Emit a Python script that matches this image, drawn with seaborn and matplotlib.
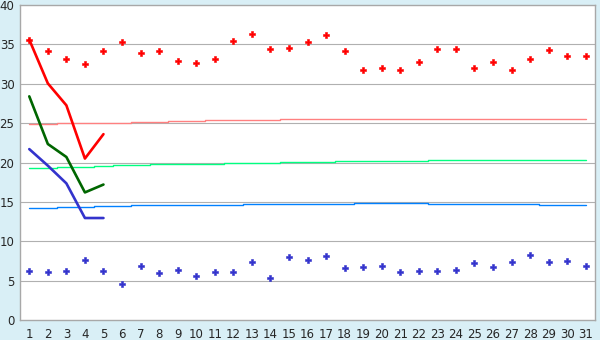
import matplotlib
matplotlib.use("Agg")
import pandas as pd
import matplotlib.pyplot as plt
import seaborn as sns

# daily readings, day 1..31
days = list(range(1, 32))
high_points = [35.55, 34.1, 33.1, 32.5, 34.2, 35.25, 33.9, 34.1, 32.85, 32.6,
               33.2, 35.4, 36.3, 34.4, 34.6, 35.25, 36.15, 34.1, 31.8, 31.95,
               31.7, 32.7, 34.4, 34.4, 31.95, 32.7, 31.7, 33.2, 34.25, 33.5, 33.5]
low_points = [6.17, 6.05, 6.17, 7.58, 6.17, 4.53, 6.81, 5.93, 6.31, 5.55,
              6.05, 6.05, 7.33, 5.29, 7.96, 7.58, 8.08, 6.56, 6.69, 6.81,
              6.05, 6.17, 6.17, 6.31, 7.2, 6.69, 7.33, 8.21, 7.33, 7.45, 6.81]

# long-run averages
high_avg = [24.85, 24.85, 24.97, 24.97, 24.97, 24.97, 25.1, 25.1, 25.23, 25.23,
            25.35, 25.35, 25.35, 25.35, 25.48, 25.48, 25.48, 25.48, 25.48, 25.48,
            25.48, 25.48, 25.48, 25.48, 25.48, 25.48, 25.48, 25.48, 25.48, 25.48, 25.48]
mid_avg = [19.26, 19.26, 19.43, 19.43, 19.56, 19.68, 19.68, 19.81, 19.81, 19.81,
           19.81, 19.94, 19.94, 19.94, 20.02, 20.02, 20.02, 20.15, 20.15, 20.15,
           20.15, 20.15, 20.27, 20.27, 20.27, 20.27, 20.27, 20.27, 20.27, 20.27, 20.27]
low_avg = [14.18, 14.18, 14.31, 14.31, 14.44, 14.44, 14.56, 14.56, 14.56, 14.56,
           14.56, 14.56, 14.69, 14.69, 14.69, 14.69, 14.69, 14.69, 14.8, 14.8,
           14.8, 14.8, 14.69, 14.69, 14.69, 14.69, 14.69, 14.69, 14.56, 14.56, 14.56]

# first five days of the current series
early_days = [1, 2, 3, 4, 5]
high_now = [35.6, 30.05, 27.26, 20.5, 23.6]
mid_now = [28.4, 22.35, 20.7, 16.2, 17.2]
low_now = [21.7, 19.6, 17.35, 12.95, 12.95]

df = pd.DataFrame({"day": days, "high": high_points, "low": low_points,
                   "high_avg": high_avg, "mid_avg": mid_avg, "low_avg": low_avg})
df_now = pd.DataFrame({"day": early_days, "high": high_now, "mid": mid_now, "low": low_now})

sns.set_style("white")
plt.rcParams["font.family"] = ["DejaVu Sans"]

fig = plt.figure(figsize=(6, 3.4), dpi=100, facecolor="#D9EFF6")
ax = fig.add_axes([20 / 600, 20 / 340, 575 / 600, 315 / 340])
ax.set_facecolor("white")

for y in range(5, 40, 5):
    ax.axhline(y, color="#B0B0B0", linewidth=0.8, zorder=0)

sns.lineplot(data=df, x="day", y="high_avg", ax=ax, color="#FF8080", linewidth=1.0,
             drawstyle="steps-mid", zorder=2)
sns.lineplot(data=df, x="day", y="mid_avg", ax=ax, color="#00FF80", linewidth=1.0,
             drawstyle="steps-mid", zorder=2)
sns.lineplot(data=df, x="day", y="low_avg", ax=ax, color="#0080FF", linewidth=1.0,
             drawstyle="steps-mid", zorder=2)

sns.lineplot(data=df_now, x="day", y="high", ax=ax, color="#FF0000", linewidth=1.9, zorder=3)
sns.lineplot(data=df_now, x="day", y="mid", ax=ax, color="#006600", linewidth=1.9, zorder=3)
sns.lineplot(data=df_now, x="day", y="low", ax=ax, color="#3333CC", linewidth=1.9, zorder=3)

sns.scatterplot(data=df, x="day", y="high", ax=ax, color="#FF0000", marker="P", s=20,
                edgecolor="#FF0000", linewidth=0.4, zorder=4)
sns.scatterplot(data=df, x="day", y="low", ax=ax, color="#3333CC", marker="P", s=20,
                edgecolor="#3333CC", linewidth=0.4, zorder=4)

ax.set_xlim(0.5, 31.5)
ax.set_ylim(0, 40)
ax.set_xticks(days)
ax.set_yticks(range(0, 41, 5))
ax.set_xlabel("")
ax.set_ylabel("")
ax.tick_params(axis="both", direction="out", length=4, width=0.8, color="black",
               labelsize=8.5, pad=2)
ax.tick_params(axis="y", length=3, pad=1)
for side in ["left", "bottom", "right", "top"]:
    ax.spines[side].set_visible(True)
    ax.spines[side].set_color("#A8A8A8")
    ax.spines[side].set_linewidth(1.0)

fig.savefig("out.png", dpi=100, facecolor=fig.get_facecolor())
